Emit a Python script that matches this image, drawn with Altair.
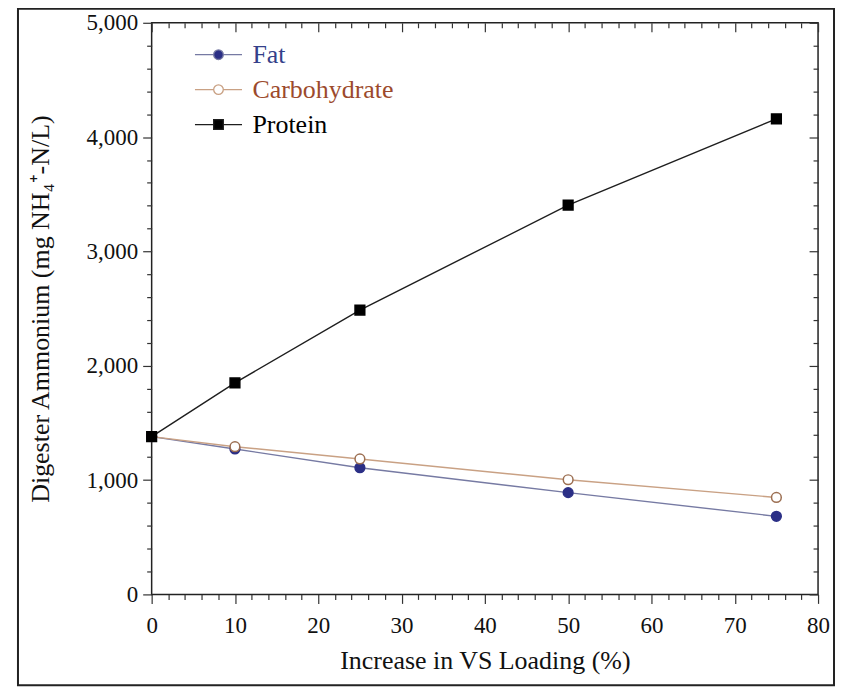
import altair as alt
import pandas as pd

# ---- data ----
x_vals = [0, 10, 25, 50, 75]
fat = [1380, 1272, 1108, 890, 683]
carbohydrate = [1380, 1292, 1185, 1003, 848]
protein = [1380, 1850, 2487, 3405, 4160]
series_names = ["Fat", "Carbohydrate", "Protein"]

line_colors = ["#767aa3", "#c9a184", "#1e1e1e"]
marker_fill = ["#2b2f86", "#ffffff", "#000000"]
marker_stroke = ["#2b2f86", "#9c6f52", "#000000"]
marker_shape = ["circle", "circle", "square"]

x_ticks = list(range(0, 81, 2))
y_ticks = list(range(0, 5001, 200))

rows = []
for name, vals in zip(series_names, [fat, carbohydrate, protein]):
    for xv, yv in zip(x_vals, vals):
        rows.append({"series": name, "x": xv, "y": yv})
df = pd.DataFrame(rows)

FONT = "Liberation Serif"
W, H = 668, 573

circle_path = "M-2.2,0H-0.45M0.45,0H2.2M-0.45,0A0.45,0.45,0,1,1,0.45,0A0.45,0.45,0,1,1,-0.45,0Z"
square_path = "M-2.2,0H-0.45M0.45,0H2.2M-0.45,-0.45H0.45V0.45H-0.45Z"

x_scale = alt.Scale(domain=[0, 80], nice=False, zero=False)
y_scale = alt.Scale(domain=[0, 5000], nice=False)

axis_style = dict(labelFont=FONT, labelFontSize=23, labelColor="#111111",
                  titleFont=FONT, titleFontSize=26, titleFontWeight="normal",
                  titleColor="#111111", tickColor="#333333", tickWidth=1.2,
                  domain=False, grid=False)

base = alt.Chart(df)

lines = base.mark_line(strokeWidth=1.4).encode(
    x=alt.X("x:Q", scale=x_scale, title="Increase in VS Loading (%)",
            axis=alt.Axis(values=x_ticks, orient="bottom",
                          labelExpr="datum.value % 10 === 0 ? datum.label : ''",
                          tickSize={"expr": "datum.value % 10 === 0 ? 9 : 5"},
                          labelFlush=False, labelPadding=11, titlePadding=10,
                          **axis_style)),
    y=alt.Y("y:Q", scale=y_scale, title="Digester Ammonium (mg NH\u2084\u207a-N/L)",
            axis=alt.Axis(values=y_ticks, orient="left",
                          labelExpr="datum.value % 1000 === 0 ? format(datum.value, ',') : ''",
                          tickSize={"expr": "datum.value % 1000 === 0 ? 9 : 5"},
                          labelPadding=5, titlePadding=33,
                          **axis_style)),
    color=alt.Color("series:N",
                    scale=alt.Scale(domain=series_names, range=line_colors),
                    legend=alt.Legend(
                        title=None, orient="none", legendX=54, legendY=19,
                        padding=0, rowPadding=9, labelOffset=21,
                        labelFont=FONT, labelFontSize=26,
                        labelColor={"expr": "datum.value === 'Fat' ? '#34408a' : (datum.value === 'Carbohydrate' ? '#9c4a2c' : '#000000')"},
                        symbolType={"expr": "datum.value === 'Protein' ? '" + square_path + "' : '" + circle_path + "'"},
                        symbolSize=460, symbolStrokeWidth=1.3,
                        symbolFillColor={"expr": "datum.value === 'Fat' ? '#2b2f86' : (datum.value === 'Carbohydrate' ? '#ffffff' : '#000000')"},
                        symbolStrokeColor={"expr": "datum.value === 'Fat' ? '#2b2f86' : (datum.value === 'Carbohydrate' ? '#9c6f52' : '#000000')"},
                    )),
    detail="series:N",
)

points = base.mark_point(size=95, strokeWidth=1.5, opacity=1).encode(
    x=alt.X("x:Q", scale=x_scale, title=None,
            axis=alt.Axis(values=x_ticks, orient="top", labels=False,
                          tickSize={"expr": "datum.value % 10 === 0 ? -9 : -5"},
                          **axis_style)),
    y=alt.Y("y:Q", scale=y_scale, title=None,
            axis=alt.Axis(values=y_ticks, orient="right", labels=False,
                          tickSize={"expr": "datum.value % 1000 === 0 ? -9 : -5"},
                          **axis_style)),
    fill=alt.Fill("series:N", scale=alt.Scale(domain=series_names, range=marker_fill), legend=None),
    stroke=alt.Stroke("series:N", scale=alt.Scale(domain=series_names, range=marker_stroke), legend=None),
    shape=alt.Shape("series:N", scale=alt.Scale(domain=series_names, range=marker_shape), legend=None),
)

border = alt.Chart(pd.DataFrame({"a": [0]})).mark_rect(
    fillOpacity=0, stroke="#222222", strokeWidth=2, clip=False
).encode(
    x=alt.value(-134), x2=alt.value(W + 16), y=alt.value(-14), y2=alt.value(H + 91)
)

chart = alt.layer(lines, points, border).resolve_axis(
    x="independent", y="independent"
).resolve_scale(color="independent", fill="independent", stroke="independent", shape="independent").properties(
    width=W, height=H,
    background="white",
    autosize=alt.AutoSizeParams(type="none"),
    padding={"left": 144, "top": 14, "right": 20, "bottom": 92},
).configure_view(
    stroke="#222222", strokeWidth=1.5
).configure_legend(
    labelFont=FONT, labelFontSize=26
)

chart.save("out.html", embed_options={"renderer": "svg", "actions": False})
